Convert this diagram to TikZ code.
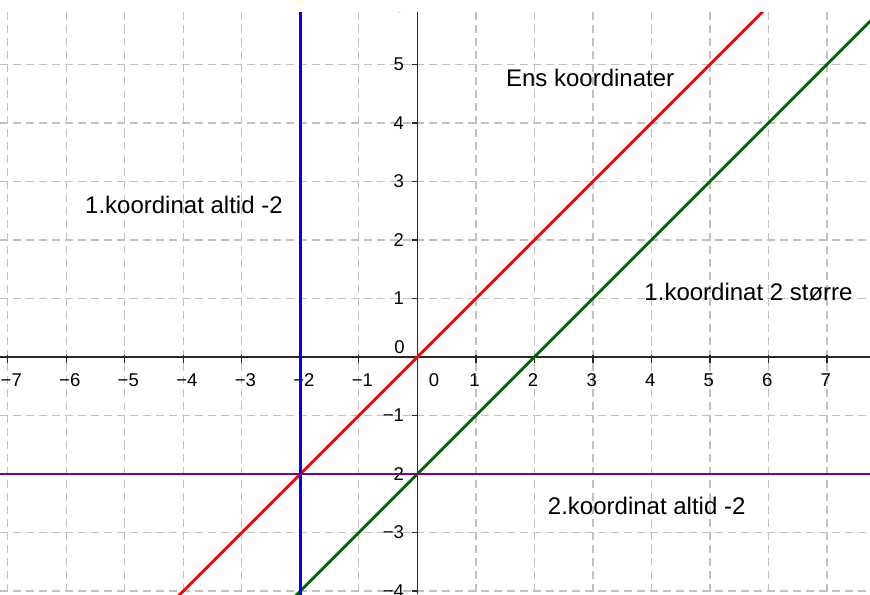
\documentclass[tikz,border=0pt]{standalone}
\usepackage{fontspec}
\setmainfont{Liberation Sans}
\definecolor{gridgray}{RGB}{192,192,192}
\definecolor{axisgray}{RGB}{40,40,40}
\definecolor{lred}{RGB}{255,0,0}
\definecolor{lgreen}{RGB}{0,100,0}
\definecolor{lblue}{RGB}{0,0,255}
\definecolor{lpurple}{RGB}{128,0,128}
\begin{document}
\begin{tikzpicture}[x=58.5pt,y=58.5pt,
  gridline/.style={draw=gridgray, line width=1.4pt, dash pattern=on 8pt off 5pt},
  axisline/.style={draw=axisgray, line width=1.4pt},
  tickline/.style={draw=axisgray, line width=1.4pt},
  xlab/.style={anchor=base, font=\fontsize{18.5}{22}\selectfont, inner sep=0pt},
  ylab/.style={anchor=base east, font=\fontsize{18.5}{22}\selectfont, inner sep=0pt},
  note/.style={anchor=base west, font=\fontsize{24}{28}\selectfont, inner sep=0pt},
  curve/.style={line width=2.7pt}]
\useasboundingbox (-7.133,-4.051) rectangle (7.738,6.103);
\begin{scope}
\clip (-7.133,-4.051) rectangle (7.738,5.897);
% grid
\foreach \x in {-7,...,7} \draw[gridline] (\x,5.897) -- (\x,-4.051);
\foreach \y in {-4,...,5} \draw[gridline] (-7.133,\y) -- (7.738,\y);
% axes
\coordinate (xl) at (-7.133,0);
\coordinate (xr) at (7.738,0);
\coordinate (yb) at (0,-4.051);
\coordinate (yt) at (0,5.897);
\draw[axisline] (xl) -- (xr);
\draw[axisline] (yb) -- (yt);
% ticks
\foreach \x in {-7,...,-1,1,2,...,7} \draw[tickline] (\x,0.03) -- (\x,-0.1);
\foreach \y in {-4,...,-1,1,2,...,6} \draw[tickline] (-0.096,\y) -- (0,\y);
% tick labels
\foreach \n in {1,...,7} \node[xlab] (xm\n) at (-\n+0.06,-0.5) {−\n};
\foreach \n in {1,...,7} \node[xlab] (xp\n) at (\n-0.02,-0.5) {\n};
\foreach \n in {1,...,6} \node[ylab] (yp\n) at (-0.225,\n-0.11) {\n};
\foreach \n in {1,...,4} \node[ylab] (ym\n) at (-0.225,-\n-0.11) {−\n};
\node[ylab] (y0) at (-0.211,0.068) {0};
\node[xlab] (x0) at (0.285,-0.5) {0};
% lines
\coordinate (g1) at (-2.2,-4.2);
\coordinate (g2) at (8,6);
\coordinate (r1) at (-4.3,-4.3);
\coordinate (r2) at (6.2,6.2);
\coordinate (b1) at (-2,-4.3);
\coordinate (b2) at (-2,6.2);
\coordinate (p1) at (-7.3,-2);
\coordinate (p2) at (7.9,-2);
\draw[curve, lgreen] (g1) -- (g2);
\draw[curve, lred] (r1) -- (r2);
\draw[curve, lblue] (b1) -- (b2);
\draw[curve, lpurple] (p1) -- (p2);
% notes
\node[note] (ens) at (1.515,4.632) {Ens koordinater};
\node[note] (k1) at (-5.68,2.462) {1.koordinat altid -2};
\node[note] (k2) at (3.88,0.962) {1.koordinat 2 større};
\node[note] (k3) at (2.23,-2.684) {2.koordinat altid -2};
\end{scope}
\end{tikzpicture}
\end{document}
